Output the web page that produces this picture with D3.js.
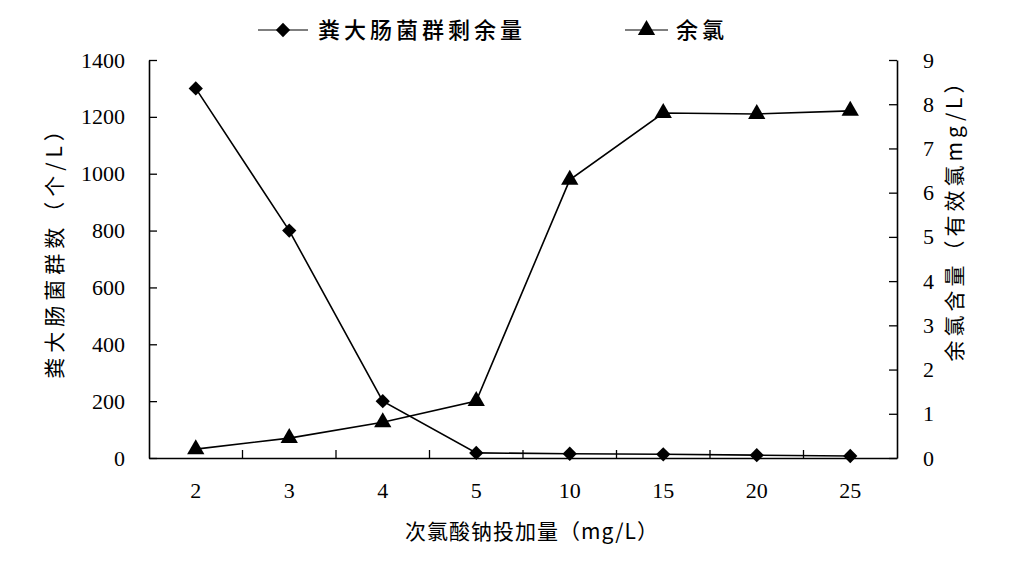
<!DOCTYPE html>
<html><head><meta charset="utf-8">
<script src="https://cdn.jsdelivr.net/npm/d3@7"></script>
<style>
body{margin:0;background:#fff;}
svg{display:block;}
</style></head>
<body>
<svg id="chart" width="1024" height="565"></svg>
<script>
const categories = ["2","3","4","5","10","15","20","25"];
const coliform = [1300, 800, 200, 18, 15, 13, 10, 7];
const chlorine = [0.2, 0.45, 0.81, 1.29, 6.29, 7.8, 7.78, 7.85];
const leftTicks = [0,200,400,600,800,1000,1200,1400];
const rightTicks = [0,1,2,3,4,5,6,7,8,9];
const seriesNames = ["粪大肠菌群剩余量","余氯"];
const xTitle = "次氯酸钠投加量（mg/L）";
const yLeftTitle = "粪大肠菌群数（个/L）";
const yRightTitle = "余氯含量（有效氯mg/L）";

const svg = d3.select("#chart");
const L = 149, R = 897, T = 60, B = 458;
const numFont = "'Liberation Serif','DejaVu Serif',serif";
const cjkFont = "'Noto Sans CJK SC','Noto Sans',sans-serif";

const x = d3.scaleBand().domain(categories).range([L, R]);
const yL = d3.scaleLinear().domain([0,1400]).range([B, T]);
const yR = d3.scaleLinear().domain([0,9]).range([B, T]);

// axes
const gx = svg.append("g").attr("transform", `translate(0,${B})`)
  .call(d3.axisBottom(x).tickValues([]).tickSizeOuter(0));
const bounds = categories.slice(1).map(c => x(c));
svg.append("g").selectAll("line").data(bounds).join("line")
  .attr("x1", d => d).attr("x2", d => d).attr("y1", B).attr("y2", B - 8)
  .attr("stroke", "#000").attr("stroke-width", 1.3);
svg.append("g").selectAll("text").data(categories).join("text")
  .attr("x", d => x(d) + x.bandwidth()/2).attr("y", 498)
  .attr("text-anchor", "middle").attr("font-family", numFont).attr("font-size", 22)
  .text(d => d);

const gl = svg.append("g").attr("transform", `translate(${L},0)`)
  .call(d3.axisLeft(yL).tickValues(leftTicks).tickFormat(d3.format("d")).tickSizeInner(-8).tickSizeOuter(0).tickPadding(24));
const gr = svg.append("g").attr("transform", `translate(${R},0)`)
  .call(d3.axisRight(yR).tickValues(rightTicks).tickFormat(d3.format("d")).tickSizeInner(-8).tickSizeOuter(0).tickPadding(26));
[gx, gl, gr].forEach(g => {
  g.select(".domain").attr("stroke", "#000").attr("stroke-width", 1.6);
  g.selectAll(".tick line").attr("stroke", "#000").attr("stroke-width", 1.3);
  g.selectAll("text").attr("font-family", numFont).attr("font-size", 22).attr("fill", "#000");
});

const cx = d => x(d) + x.bandwidth()/2;

// lines
const line1 = d3.line().x((d,i) => cx(categories[i])).y(d => yL(d));
const line2 = d3.line().x((d,i) => cx(categories[i])).y(d => yR(d));
svg.append("path").datum(coliform).attr("d", line1)
  .attr("fill", "none").attr("stroke", "#000").attr("stroke-width", 1.6);
svg.append("path").datum(chlorine).attr("d", line2)
  .attr("fill", "none").attr("stroke", "#000").attr("stroke-width", 1.6);

const diamond = d3.symbol().type(d3.symbolDiamond2).size(130);
const tri = d3.symbol().type(d3.symbolTriangle).size(130);
svg.append("g").selectAll("path").data(coliform).join("path")
  .attr("d", diamond).attr("transform", (d,i) => `translate(${cx(categories[i])},${yL(d)})`)
  .attr("fill", "#000");
svg.append("g").selectAll("path").data(chlorine).join("path")
  .attr("d", tri).attr("transform", (d,i) => `translate(${cx(categories[i])},${yR(d)})`)
  .attr("fill", "#000");

// legend
const leg = [
  {x1: 258, x2: 308, tx: 318, sym: diamond, name: seriesNames[0]},
  {x1: 625, x2: 668, tx: 676, sym: tri, name: seriesNames[1]}
];
leg.forEach(l => {
  svg.append("line").attr("x1", l.x1).attr("x2", l.x2).attr("y1", 30).attr("y2", 30)
    .attr("stroke", "#000").attr("stroke-width", 1.2);
  svg.append("path").attr("d", l.sym).attr("transform", `translate(${(l.x1+l.x2)/2},30)`).attr("fill", "#000");
  svg.append("text").attr("x", l.tx).attr("y", 38).attr("font-family", cjkFont)
    .attr("font-size", 22).attr("font-weight", 500).attr("letter-spacing", 4).text(l.name);
});

// axis titles
svg.append("text").attr("x", 532).attr("y", 539).attr("text-anchor", "middle")
  .attr("font-family", cjkFont).attr("font-size", 21).attr("letter-spacing", 1).text(xTitle);
svg.append("text").attr("transform", "translate(62,247) rotate(-90)").attr("text-anchor", "middle")
  .attr("font-family", cjkFont).attr("font-size", 21).attr("letter-spacing", 5).text(yLeftTitle);
svg.append("text").attr("transform", "translate(962,215) rotate(-90)").attr("text-anchor", "middle")
  .attr("font-family", cjkFont).attr("font-size", 21).attr("letter-spacing", 4).text(yRightTitle);
</script>
</body></html>
